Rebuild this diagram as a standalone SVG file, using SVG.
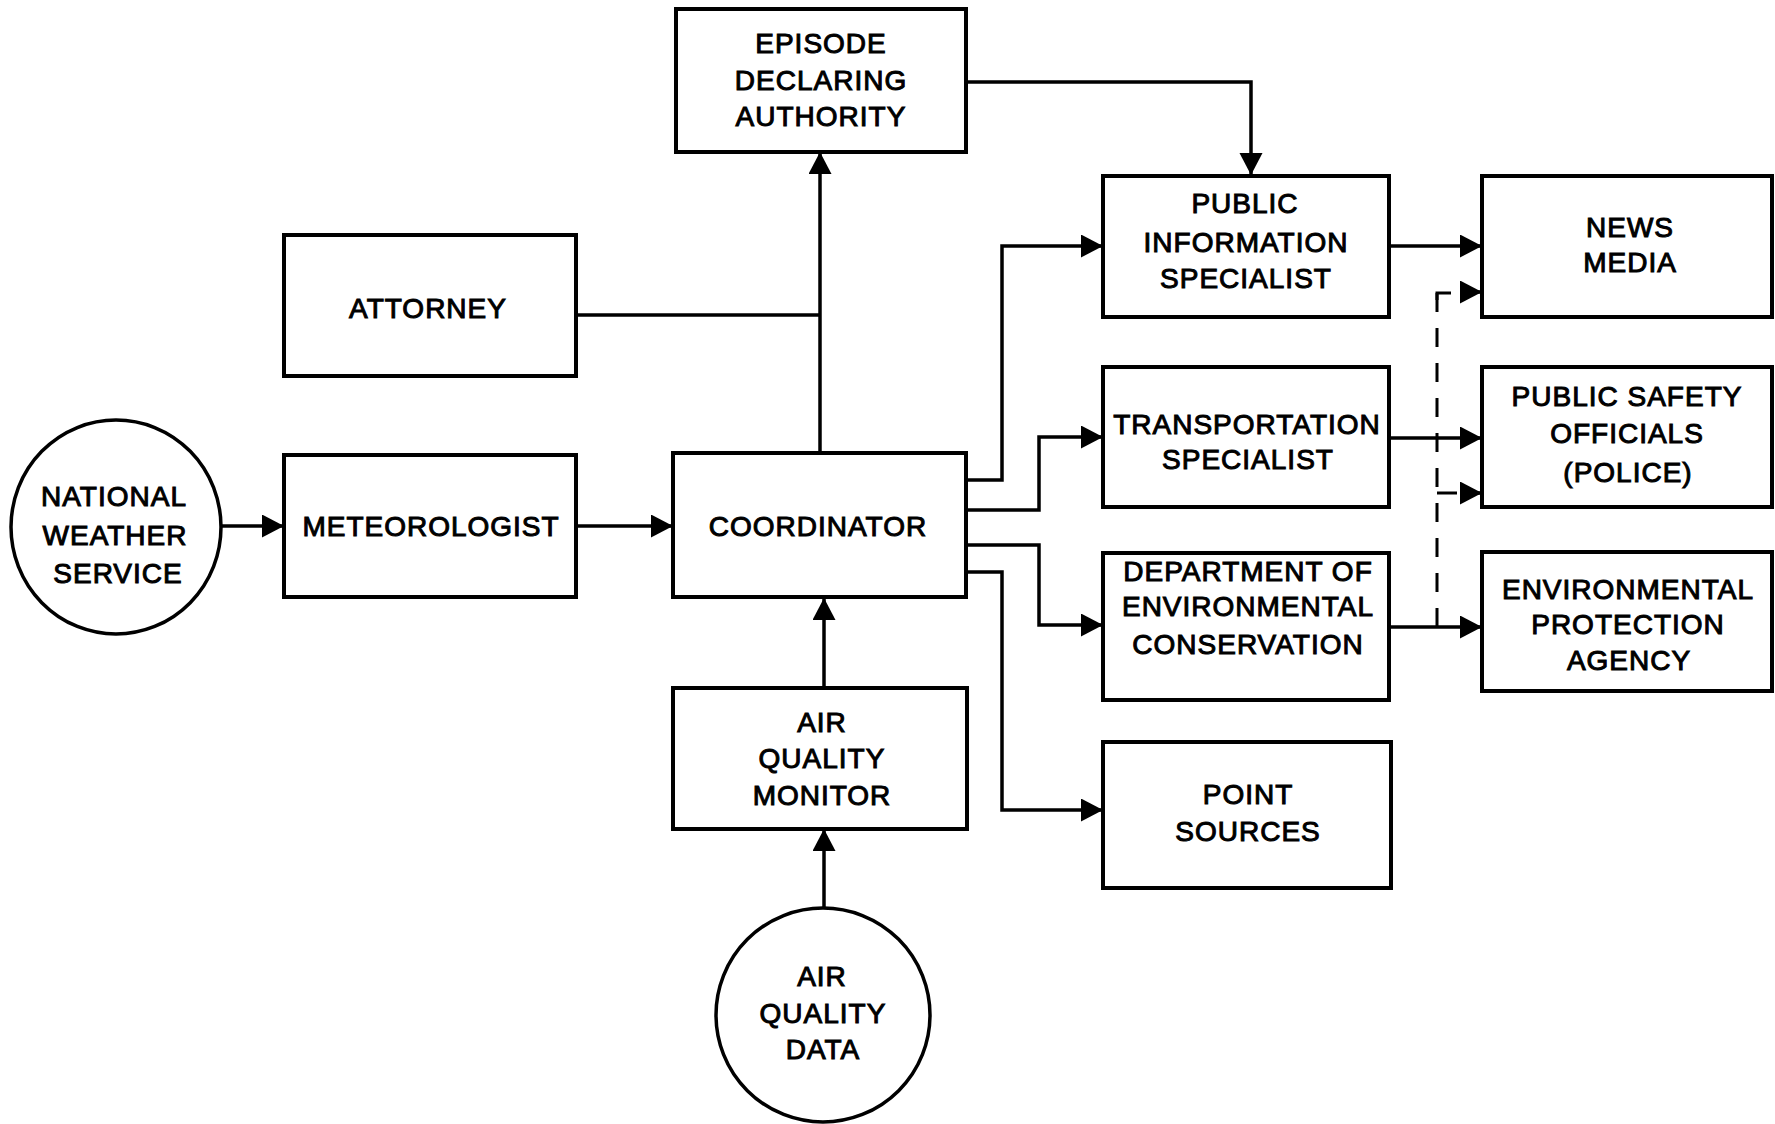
<svg xmlns="http://www.w3.org/2000/svg" width="1775" height="1124" viewBox="0 0 1775 1124">
  <defs>
    <style>
      .box { fill: #fff; stroke: #000; stroke-width: 4; }
      .circ { fill: #fff; stroke: #000; stroke-width: 3.5; }
      .lbl { font-family: "Liberation Sans", Arial, sans-serif; font-size: 28px; letter-spacing: 1px; fill: #000; stroke: #000; stroke-width: 1; text-anchor: middle; }
      .conn { fill: none; stroke: #000; stroke-width: 3.5; }
      .dash { fill: none; stroke: #000; stroke-width: 3; stroke-dasharray: 19 16; }
      .solid-thin { fill: none; stroke: #000; stroke-width: 3; }
    </style>
    <marker id="arr" markerUnits="userSpaceOnUse" markerWidth="24" markerHeight="24" refX="22" refY="11.5" orient="auto">
      <path d="M0,0 L22,11.5 L0,23 Z" fill="#000"/>
    </marker>
  </defs>
  <rect width="1775" height="1124" fill="#fff"/>

  <g id="connectors">
    <path class="conn" d="M221,526 H284" marker-end="url(#arr)"/>
    <path class="conn" d="M576,526 H673" marker-end="url(#arr)"/>
    <path class="conn" d="M820,453 V152" marker-end="url(#arr)"/>
    <path class="conn" d="M576,315 H820"/>
    <path class="conn" d="M966,82 H1251 V175" marker-end="url(#arr)"/>
    <path class="conn" d="M966,480 H1002 V246 H1103" marker-end="url(#arr)"/>
    <path class="conn" d="M966,510 H1039 V437 H1103" marker-end="url(#arr)"/>
    <path class="conn" d="M966,545 H1039 V625 H1103" marker-end="url(#arr)"/>
    <path class="conn" d="M966,572 H1002 V810 H1103" marker-end="url(#arr)"/>
    <path class="conn" d="M1389,246 H1482" marker-end="url(#arr)"/>
    <path class="conn" d="M1389,438 H1482" marker-end="url(#arr)"/>
    <path class="conn" d="M1389,627 H1482" marker-end="url(#arr)"/>
    <path class="conn" d="M824,688 V598" marker-end="url(#arr)"/>
    <path class="conn" d="M824,907 V829" marker-end="url(#arr)"/>
    <path class="dash" d="M1437,293 V627"/>
    <path class="solid-thin" d="M1451,293 H1437 V300"/>
    <path class="solid-thin" d="M1437,493 H1457"/>
    <path class="conn" d="M1462,292 H1482" marker-end="url(#arr)"/>
    <path class="conn" d="M1462,493 H1482" marker-end="url(#arr)"/>
  </g>

  <g id="episode">
    <rect class="box" x="676" y="9" width="290" height="143"/>
    <text class="lbl" x="821" y="53">EPISODE</text>
    <text class="lbl" x="821" y="90">DECLARING</text>
    <text class="lbl" x="821" y="126">AUTHORITY</text>
  </g>

  <g id="attorney">
    <rect class="box" x="284" y="235" width="292" height="141"/>
    <text class="lbl" x="428" y="318">ATTORNEY</text>
  </g>

  <g id="nws">
    <ellipse class="circ" cx="116" cy="527" rx="105" ry="107"/>
    <text class="lbl" x="114" y="506">NATIONAL</text>
    <text class="lbl" x="115" y="545">WEATHER</text>
    <text class="lbl" x="118" y="583">SERVICE</text>
  </g>

  <g id="meteorologist">
    <rect class="box" x="284" y="455" width="292" height="142"/>
    <text class="lbl" x="431" y="536">METEOROLOGIST</text>
  </g>

  <g id="coordinator">
    <rect class="box" x="673" y="453" width="293" height="144"/>
    <text class="lbl" x="818" y="536">COORDINATOR</text>
  </g>

  <g id="pis">
    <rect class="box" x="1103" y="176" width="286" height="141"/>
    <text class="lbl" x="1245" y="213">PUBLIC</text>
    <text class="lbl" x="1246" y="252">INFORMATION</text>
    <text class="lbl" x="1246" y="288">SPECIALIST</text>
  </g>

  <g id="news">
    <rect class="box" x="1482" y="176" width="290" height="141"/>
    <text class="lbl" x="1630" y="237">NEWS</text>
    <text class="lbl" x="1630" y="272">MEDIA</text>
  </g>

  <g id="transport">
    <rect class="box" x="1103" y="367" width="286" height="140"/>
    <text class="lbl" x="1247" y="434">TRANSPORTATION</text>
    <text class="lbl" x="1248" y="469">SPECIALIST</text>
  </g>

  <g id="pso">
    <rect class="box" x="1482" y="367" width="290" height="140"/>
    <text class="lbl" x="1627" y="406">PUBLIC SAFETY</text>
    <text class="lbl" x="1627" y="443">OFFICIALS</text>
    <text class="lbl" x="1628" y="482">(POLICE)</text>
  </g>

  <g id="dec">
    <rect class="box" x="1103" y="553" width="286" height="147"/>
    <text class="lbl" x="1248" y="581">DEPARTMENT OF</text>
    <text class="lbl" x="1248" y="616">ENVIRONMENTAL</text>
    <text class="lbl" x="1248" y="654">CONSERVATION</text>
  </g>

  <g id="epa">
    <rect class="box" x="1482" y="552" width="290" height="139"/>
    <text class="lbl" x="1628" y="599">ENVIRONMENTAL</text>
    <text class="lbl" x="1628" y="634">PROTECTION</text>
    <text class="lbl" x="1629" y="670">AGENCY</text>
  </g>

  <g id="point-sources">
    <rect class="box" x="1103" y="742" width="288" height="146"/>
    <text class="lbl" x="1248" y="804">POINT</text>
    <text class="lbl" x="1248" y="841">SOURCES</text>
  </g>

  <g id="aq-monitor">
    <rect class="box" x="673" y="688" width="294" height="141"/>
    <text class="lbl" x="822" y="732">AIR</text>
    <text class="lbl" x="822" y="768">QUALITY</text>
    <text class="lbl" x="822" y="805">MONITOR</text>
  </g>

  <g id="aq-data">
    <ellipse class="circ" cx="823" cy="1015" rx="107" ry="107"/>
    <text class="lbl" x="822" y="986">AIR</text>
    <text class="lbl" x="823" y="1023">QUALITY</text>
    <text class="lbl" x="823" y="1059">DATA</text>
  </g>
</svg>
